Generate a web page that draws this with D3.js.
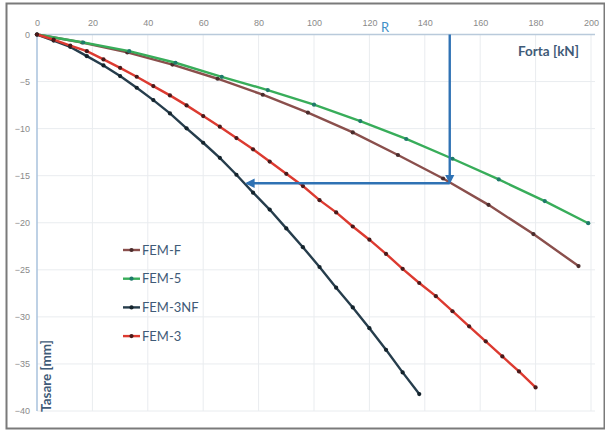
<!DOCTYPE html>
<html>
<head>
<meta charset="utf-8">
<script src="https://cdn.jsdelivr.net/npm/d3@7"></script>
<style>
	body { margin: 0; background: #fff; }
	svg { display: block; font-family: Lato, 'Open Sans', sans-serif; }
	.axis path, .axis line { display: none; }
	.axis text { fill: #8a8a8a; font-size: 9px; }
	.grid line { stroke: #e9ecef; stroke-width: 1; }
	.title { fill: #3f5b78; font-weight: bold; font-size: 13.5px; }
	.legend text { fill: #3f5b78; font-size: 13px; }
</style>
</head>
<body>
<svg id="chart" width="605" height="431"></svg>
<script>
const xTicks = [0, 20, 40, 60, 80, 100, 120, 140, 160, 180, 200]
const yTicks = [0, -5, -10, -15, -20, -25, -30, -35, -40]

// Forta [kN] / Tasare [mm]
const femFx = [0, 16.3, 32.6, 48.9, 65.2, 81.5, 97.8, 114, 130.3, 146.6, 163, 179.2, 195.5]
const femFy = [0, -0.85, -1.9, -3.2, -4.7, -6.4, -8.3, -10.4, -12.8, -15.3, -18.1, -21.2, -24.6]

const fem5x = [0, 16.7, 33.3, 50, 66.7, 83.3, 100, 116.7, 133.3, 150, 166.7, 183.3, 199]
const fem5y = [0, -0.85, -1.77, -3.0, -4.5, -5.9, -7.46, -9.2, -11.1, -13.2, -15.4, -17.7, -20.05]

const fem3nfx = [0, 6, 12, 18, 24, 30, 36, 42, 48, 54, 60, 66, 72, 78, 84, 90, 96, 102, 108, 114, 120, 126, 132, 138]
const fem3nfy = [0, -0.65, -1.31, -2.3, -3.29, -4.42, -5.66, -6.97, -8.38, -9.97, -11.5, -13.1, -14.9, -16.8,
	-18.6, -20.6, -22.6, -24.7, -26.9, -29.0, -31.2, -33.5, -35.9, -38.2]

const fem3x = [0, 6, 12, 18, 24, 30, 36, 42, 48, 54, 60, 66, 72, 78, 84, 90, 96, 102, 108, 114, 120,
	126, 132, 138, 144, 150, 156, 162, 168, 174, 180]
const fem3y = [0, -0.55, -1.17, -1.77, -2.65, -3.54, -4.49, -5.48, -6.47, -7.53, -8.67, -9.79, -11.0, -12.2,
	-13.5, -14.8, -16.1, -17.6, -18.9, -20.4, -21.8, -23.3, -24.9, -26.4, -27.8, -29.4, -31.0, -32.6, -34.2, -35.8, -37.5]

const series = [
	{name: 'FEM-F', xs: femFx, ys: femFy, line: '#8a4f4c', dot: '#4a2c2c'},
	{name: 'FEM-5', xs: fem5x, ys: fem5y, line: '#38ad5a', dot: '#1f7a6a'},
	{name: 'FEM-3NF', xs: fem3nfx, ys: fem3nfy, line: '#263d4c', dot: '#14232c'},
	{name: 'FEM-3', xs: fem3x, ys: fem3y, line: '#dc3a30', dot: '#4a1a1a'}
]

// R marker: force and settlement read at the arrow corner, arrow tip
const arrowR = {force: 149, settle: -15.8, tipForce: 75.8}

const svg = d3.select('#chart')
const x = d3.scaleLinear().domain([0, 200]).range([37, 591])
const y = d3.scaleLinear().domain([0, -40]).range([34.5, 411])

// frame
svg.append('rect')
	.attr('x', 6.5).attr('y', 3.5).attr('width', 598).attr('height', 425)
	.attr('fill', 'none').attr('stroke', '#7a7a7a').attr('stroke-width', 2)

// grid
const grid = svg.append('g').attr('class', 'grid')
grid.selectAll('.h').data(yTicks.slice(1)).enter().append('line')
	.attr('x1', x(0)).attr('x2', x(200) + 4)
	.attr('y1', d => y(d)).attr('y2', d => y(d))
grid.selectAll('.v').data(xTicks.slice(1)).enter().append('line')
	.attr('x1', d => x(d)).attr('x2', d => x(d))
	.attr('y1', y(0)).attr('y2', y(-40))

// axis lines
svg.append('line').attr('x1', x(0)).attr('x2', x(200) + 4).attr('y1', y(0)).attr('y2', y(0))
	.attr('stroke', '#b9cadb').attr('stroke-width', 1.5)
svg.append('line').attr('x1', x(0)).attr('x2', x(0)).attr('y1', y(0)).attr('y2', y(-40))
	.attr('stroke', '#a9c2dc').attr('stroke-width', 1.5)

svg.append('g').attr('class', 'axis')
	.attr('transform', `translate(0,${y(0) - 9})`)
	.call(d3.axisTop(x).tickValues(xTicks).tickSize(0).tickPadding(0))
svg.append('g').attr('class', 'axis')
	.attr('transform', `translate(${x(0) - 7},0)`)
	.call(d3.axisLeft(y).tickValues(yTicks).tickSize(0).tickPadding(0))

// series
const line = d3.line().x(d => x(d[0])).y(d => y(d[1]))
for (const s of series) {
	const pts = s.xs.map((v, i) => [v, s.ys[i]])
	const g = svg.append('g')
	g.append('path').datum(pts)
		.attr('d', line).attr('fill', 'none')
		.attr('stroke', s.line).attr('stroke-width', 2.4)
	g.selectAll('circle').data(pts).enter().append('circle')
		.attr('cx', d => x(d[0])).attr('cy', d => y(d[1]))
		.attr('r', 2.1).attr('fill', s.dot)
}

// R arrows
const blue = '#2f72b4'
svg.append('defs').append('marker')
	.attr('id', 'head').attr('viewBox', '0 0 10 10')
	.attr('refX', 8).attr('refY', 5)
	.attr('markerWidth', 4).attr('markerHeight', 4)
	.attr('orient', 'auto')
	.append('path').attr('d', 'M0,0L10,5L0,10Z').attr('fill', blue)
svg.append('line')
	.attr('x1', x(arrowR.force)).attr('x2', x(arrowR.force))
	.attr('y1', y(0)).attr('y2', y(arrowR.settle) - 1)
	.attr('stroke', blue).attr('stroke-width', 2.4).attr('marker-end', 'url(#head)')
svg.append('line')
	.attr('x1', x(arrowR.force)).attr('x2', x(arrowR.tipForce))
	.attr('y1', y(arrowR.settle)).attr('y2', y(arrowR.settle))
	.attr('stroke', blue).attr('stroke-width', 2.4).attr('marker-end', 'url(#head)')

svg.append('text').attr('x', 385).attr('y', 32).attr('text-anchor', 'middle')
	.attr('fill', '#3f8fc8').attr('font-size', 13).text('R')

// titles
svg.append('text').attr('class', 'title')
	.attr('x', 579).attr('y', 56).attr('text-anchor', 'end').text('Forta [kN]')
svg.append('text').attr('class', 'title')
	.attr('transform', 'translate(51,376) rotate(-90)').attr('text-anchor', 'middle').text('Tasare [mm]')

// legend
const legend = svg.append('g').attr('class', 'legend')
series.forEach((s, i) => {
	const ly = 250 + i * 28.7
	legend.append('line').attr('x1', 123).attr('x2', 140).attr('y1', ly).attr('y2', ly)
		.attr('stroke', s.line).attr('stroke-width', 2.4)
	legend.append('circle').attr('cx', 131.5).attr('cy', ly).attr('r', 2.1).attr('fill', s.dot)
	legend.append('text').attr('x', 142).attr('y', ly + 4.5).text(s.name)
})
</script>
</body>
</html>
